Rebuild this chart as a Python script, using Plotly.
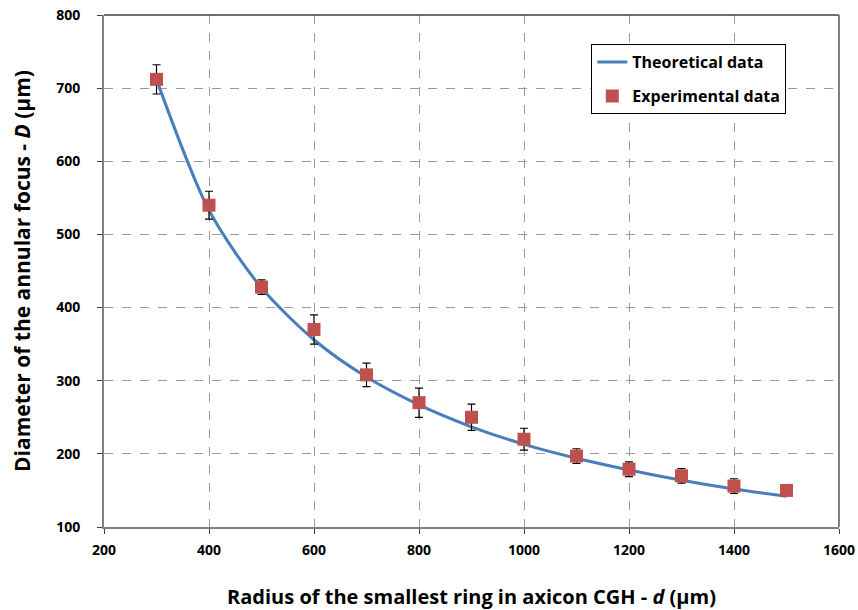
import plotly.graph_objects as go

x_theory = [300, 400, 500, 600, 700, 800, 900, 1000, 1100, 1200, 1300, 1400, 1500]
y_theory = [712, 533, 427, 356, 305, 267, 237, 213, 194, 178, 164, 152, 142]

x_exp = [300, 400, 500, 600, 700, 800, 900, 1000, 1100, 1200, 1300, 1400, 1500]
y_exp = [712, 540, 428, 370, 308, 270, 250, 220, 197, 179, 170, 156, 150]
err_exp = [20, 19, 10, 20, 16, 20, 18, 15, 10, 10, 10, 10, 0]

font_family = "Open Sans"

fig = go.Figure()
fig.add_trace(go.Scatter(
    x=x_theory, y=y_theory, mode="lines", name="<b>Theoretical data</b>",
    legendgroup="a",
    line=dict(color="#4A7EBB", width=3, shape="spline", smoothing=0.8),
))
fig.add_trace(go.Scatter(
    x=x_exp, y=y_exp, mode="markers", name="<b>Experimental data</b>",
    legendgroup="b",
    marker=dict(symbol="square", size=13, color="#C0504D"),
    error_y=dict(type="data", array=err_exp, visible=True, color="black",
                 thickness=1.2, width=4),
))

fig.update_layout(
    width=858, height=610,
    margin=dict(l=104, r=19, t=15, b=83),
    paper_bgcolor="white", plot_bgcolor="white",
    font=dict(family=font_family, color="black"),
    legend=dict(
        x=0.663, y=0.943, xanchor="left", yanchor="top",
        bordercolor="black", borderwidth=1, bgcolor="white",
        font=dict(size=16, family=font_family),
        tracegroupgap=10,
    ),
    xaxis=dict(
        range=[200, 1600], dtick=200, tick0=200,
        showgrid=True, gridcolor="#9a9a9a", griddash="dash", gridwidth=1,
        showline=True, linecolor="#808080", linewidth=2, mirror=False,
        ticks="outside", ticklen=5, tickcolor="#404040",
        tickfont=dict(size=14, family=font_family),
        tickprefix="<b>", ticksuffix="</b>",
        ticklabelstandoff=4,
        automargin=False,
        title=dict(text="<b>Radius of the smallest ring in axicon CGH - <i>d</i> (μm)</b>",
                   font=dict(size=20, family=font_family), standoff=34),
        zeroline=False,
    ),
    yaxis=dict(
        range=[100, 800], dtick=100, tick0=100,
        showgrid=True, gridcolor="#9a9a9a", griddash="dash", gridwidth=1,
        showline=True, linecolor="#808080", linewidth=2, mirror=False,
        ticks="outside", ticklen=5, tickcolor="#404040",
        tickfont=dict(size=14, family=font_family),
        tickprefix="<b>", ticksuffix="</b>",
        ticklabelstandoff=14,
        automargin=False,
        title=dict(text="<b>Diameter of the annular focus - <i>D</i> (μm)</b>",
                   font=dict(size=21, family=font_family), standoff=20),
        zeroline=False,
    ),
)

# plot-area frame (top and right)
fig.add_shape(type="line", xref="paper", yref="paper", x0=0, x1=1, y0=1, y1=1,
              line=dict(color="#404040", width=1.5))
fig.add_shape(type="line", xref="paper", yref="paper", x0=1, x1=1, y0=0, y1=1,
              line=dict(color="#808080", width=2))

fig.write_html("out.html")
